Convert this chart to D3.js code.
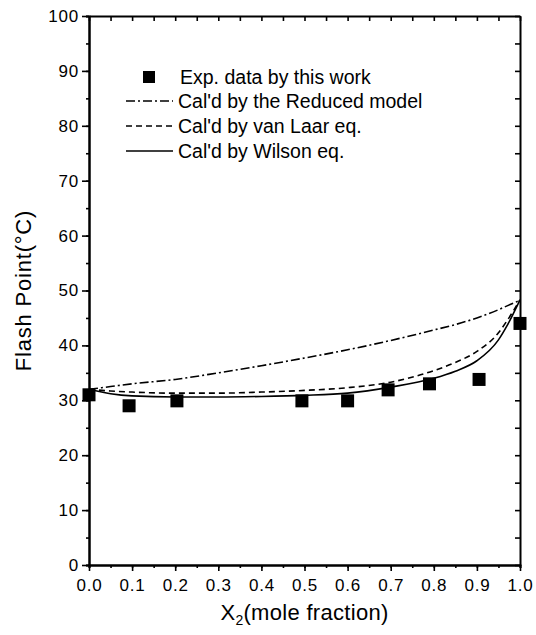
<!DOCTYPE html>
<html>
<head>
<meta charset="utf-8">
<script src="https://cdn.jsdelivr.net/npm/d3@7"></script>
<style>
  body { margin: 0; background: #fff; }
  text { font-family: "Liberation Sans", Arial, sans-serif; fill: #000; }
  .axis path, .axis line { stroke: #000; }
</style>
</head>
<body>
<script>
// experimental flash points
var expX = [0.0, 0.093, 0.204, 0.494, 0.6, 0.694, 0.79, 0.905, 1.0];
var expY = [31, 29, 29.9, 29.9, 29.9, 31.9, 33, 33.8, 44];

// calculated curves
var calcX = [0.0, 0.05, 0.1, 0.2, 0.3, 0.4, 0.5, 0.6, 0.7, 0.8, 0.85, 0.9, 0.95, 0.97, 1.0];
var reducedY = [32, 32.5, 33, 33.8, 35, 36.3, 37.7, 39.2, 40.9, 42.8, 43.8, 45, 46.5, 47.2, 48.2];
var vanLaarY = [32, 31.7, 31.5, 31.3, 31.3, 31.5, 31.8, 32.3, 33.3, 35.4, 36.9, 38.9, 42.3, 44.5, 48.3];
var wilsonY = [32, 31.2, 30.8, 30.6, 30.6, 30.7, 30.9, 31.3, 32.4, 34.0, 35.3, 37.2, 41.0, 43.6, 48.3];

var xTicks = [0.0, 0.1, 0.2, 0.3, 0.4, 0.5, 0.6, 0.7, 0.8, 0.9, 1.0];
var yTicks = [0, 10, 20, 30, 40, 50, 60, 70, 80, 90, 100];
var legendLabels = ["Exp. data by this work", "Cal'd by the Reduced model", "Cal'd by van Laar eq.", "Cal'd by Wilson eq."];

var width = 536, height = 635;
var margin = {left: 89, right: 16, top: 16, bottom: 70};

var svg = d3.select("body").append("svg")
    .attr("width", width)
    .attr("height", height);

var x = d3.scaleLinear().domain([0, 1]).range([margin.left, width - margin.right]);
var y = d3.scaleLinear().domain([0, 100]).range([height - margin.bottom, margin.top]);

var xMinor = d3.range(0, 1.001, 0.05);
var yMinor = d3.range(0, 101, 5);

function styleAxis(g) {
  g.selectAll("path").attr("stroke-width", 2);
  g.selectAll("line").attr("stroke-width", 1.6);
  g.selectAll("text").style("font-size", "17px").style("letter-spacing", "0.8px");
}

// bottom axis
svg.append("g").attr("class", "axis")
    .attr("transform", "translate(0," + y(0) + ")")
    .call(d3.axisBottom(x).tickValues(xMinor).tickSize(3).tickFormat(""))
    .call(styleAxis);
svg.append("g").attr("class", "axis")
    .attr("transform", "translate(0," + y(0) + ")")
    .call(d3.axisBottom(x).tickValues(xTicks).tickSize(6).tickSizeOuter(0).tickPadding(8).tickFormat(d3.format(".1f")))
    .call(styleAxis);

// top axis, ticks inward
svg.append("g").attr("class", "axis")
    .attr("transform", "translate(0," + y(100) + ")")
    .call(d3.axisTop(x).tickValues(xMinor).tickSize(-5).tickSizeOuter(0).tickFormat(""))
    .call(styleAxis);

// left axis
svg.append("g").attr("class", "axis")
    .attr("transform", "translate(" + x(0) + ",0)")
    .call(d3.axisLeft(y).tickValues(yMinor).tickSize(3).tickFormat(""))
    .call(styleAxis);
svg.append("g").attr("class", "axis")
    .attr("transform", "translate(" + x(0) + ",0)")
    .call(d3.axisLeft(y).tickValues(yTicks).tickSize(7).tickSizeOuter(0).tickPadding(3))
    .call(styleAxis);

// right axis, ticks inward
svg.append("g").attr("class", "axis")
    .attr("transform", "translate(" + x(1) + ",0)")
    .call(d3.axisRight(y).tickValues(yMinor).tickSize(-5).tickSizeOuter(0).tickFormat(""))
    .call(styleAxis);

// axis titles
var xt = svg.append("text")
    .attr("x", (x(0) + x(1)) / 2)
    .attr("y", 620)
    .attr("text-anchor", "middle")
    .style("font-size", "22px")
    .style("letter-spacing", "0.3px");
xt.append("tspan").text("X");
xt.append("tspan").attr("dy", 5).style("font-size", "14px").text("2");
xt.append("tspan").attr("dy", -5).text("(mole fraction)");

svg.append("text")
    .attr("transform", "translate(31," + y(50) + ") rotate(-90)")
    .attr("text-anchor", "middle")
    .style("font-size", "22px")
    .style("letter-spacing", "0.8px")
    .text("Flash Point(\u00b0C)");

// curves
var series = [
  {vals: reducedY, dash: "9,3,2,3"},
  {vals: vanLaarY, dash: "6,4"},
  {vals: wilsonY, dash: null}
];

var line = d3.line()
    .x(function(d, i) { return x(calcX[i]); })
    .y(function(d) { return y(d); })
    .curve(d3.curveMonotoneX);

svg.selectAll(".curve").data(series).enter()
  .append("path")
    .attr("class", "curve")
    .attr("d", function(d) { return line(d.vals); })
    .attr("fill", "none")
    .attr("stroke", "#000")
    .attr("stroke-width", 1.6)
    .attr("stroke-dasharray", function(d) { return d.dash; });

// experimental squares
var sq = 13;
svg.selectAll(".pt").data(expX).enter()
  .append("rect")
    .attr("class", "pt")
    .attr("x", function(d) { return x(d) - sq / 2; })
    .attr("y", function(d, i) { return y(expY[i]) - sq / 2; })
    .attr("width", sq)
    .attr("height", sq)
    .attr("fill", "#000");

// legend
var legend = svg.append("g");
var rowY = [77, 101, 126, 151];

legend.append("rect")
    .attr("x", 143).attr("y", rowY[0] - 6)
    .attr("width", 12).attr("height", 12)
    .attr("fill", "#000");

series.forEach(function(s, i) {
  legend.append("line")
      .attr("x1", 126).attr("x2", 173)
      .attr("y1", rowY[i + 1]).attr("y2", rowY[i + 1])
      .attr("stroke", "#000")
      .attr("stroke-width", 1.4)
      .attr("stroke-dasharray", s.dash);
});

legend.selectAll("text").data(legendLabels).enter()
  .append("text")
    .attr("x", function(d, i) { return i === 0 ? 180 : 178; })
    .attr("y", function(d, i) { return rowY[i]; })
    .attr("dy", "0.35em")
    .style("font-size", "19.5px")
    .text(function(d) { return d; });
</script>
</body>
</html>
